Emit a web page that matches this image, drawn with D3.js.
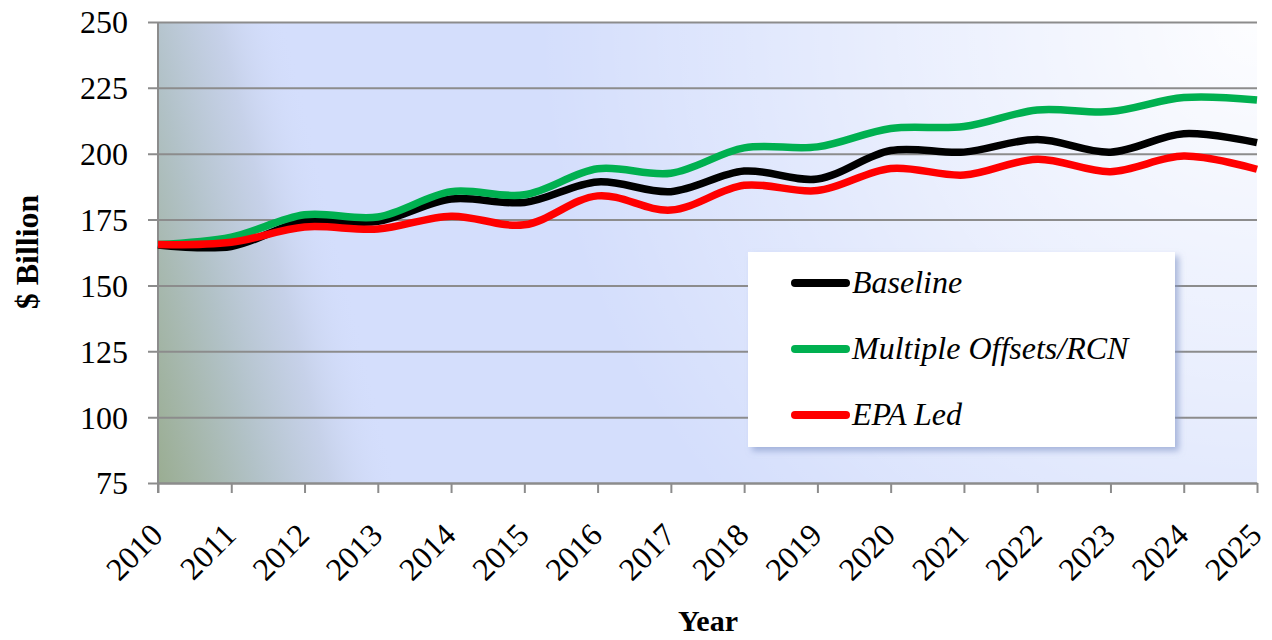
<!DOCTYPE html>
<html>
<head>
<meta charset="utf-8">
<script src="https://cdn.jsdelivr.net/npm/d3@7"></script>
<style>
  html, body { margin: 0; padding: 0; background: #ffffff; }
  svg { display: block; }
</style>
</head>
<body>
<svg id="chart" width="1272" height="640"></svg>
<script>
// Projected spending by scenario, $ billion
const years = [2010, 2011, 2012, 2013, 2014, 2015, 2016, 2017, 2018, 2019, 2020, 2021, 2022, 2023, 2024, 2025];
const baseline = [165.3, 164.8, 174.4, 174.3, 182.8, 181.5, 189.3, 185.6, 193.4, 190.4, 201.2, 200.6, 205.4, 200.6, 207.6, 204.2];
const multipleOffsets = [165.5, 168.3, 176.8, 176.0, 185.6, 184.4, 194.3, 192.6, 202.2, 202.6, 209.6, 210.3, 216.6, 216.0, 221.3, 220.4];
const epaLed = [165.5, 166.4, 172.2, 171.4, 176.3, 173.0, 184.0, 178.6, 188.0, 186.0, 194.4, 191.9, 197.9, 193.2, 199.1, 194.1];
const yTicks = [75, 100, 125, 150, 175, 200, 225, 250];

const seriesList = [
  { name: "Baseline", values: baseline, color: "#000000" },
  { name: "Multiple Offsets/RCN", values: multipleOffsets, color: "#00b050" },
  { name: "EPA Led", values: epaLed, color: "#ff0000" }
];

const svg = d3.select("#chart");
const plot = { left: 158, right: 1257, top: 22, bottom: 483 };

const x = d3.scaleLinear().domain([2010, 2025]).range([plot.left, plot.right]);
const y = d3.scaleLinear().domain([75, 250]).range([plot.bottom, plot.top]);

const defs = svg.append("defs");

// greenish-grey wash coming in from the lower left
const wash = defs.append("linearGradient")
  .attr("id", "leftWash")
  .attr("gradientUnits", "userSpaceOnUse")
  .attr("x1", 158).attr("y1", 483)
  .attr("x2", 385).attr("y2", 428);
wash.append("stop").attr("offset", 0).attr("stop-color", "#9aad92").attr("stop-opacity", 1);
wash.append("stop").attr("offset", 0.42).attr("stop-color", "#b2c2c8").attr("stop-opacity", 1);
wash.append("stop").attr("offset", 0.72).attr("stop-color", "#c4cfe6").attr("stop-opacity", 0.85);
wash.append("stop").attr("offset", 1).attr("stop-color", "#d4defc").attr("stop-opacity", 0);

// pale glow towards the upper right
const glow = defs.append("radialGradient")
  .attr("id", "rightGlow")
  .attr("gradientUnits", "userSpaceOnUse")
  .attr("cx", 1257).attr("cy", 22).attr("r", 720);
glow.append("stop").attr("offset", 0).attr("stop-color", "#ffffff").attr("stop-opacity", 0.95);
glow.append("stop").attr("offset", 0.45).attr("stop-color", "#ffffff").attr("stop-opacity", 0.55);
glow.append("stop").attr("offset", 1).attr("stop-color", "#ffffff").attr("stop-opacity", 0);

const shadow = defs.append("filter").attr("id", "legendShadow")
  .attr("x", "-10%").attr("y", "-10%").attr("width", "125%").attr("height", "125%");
shadow.append("feDropShadow")
  .attr("dx", 4).attr("dy", 4).attr("stdDeviation", 3)
  .attr("flood-color", "#7f93c4").attr("flood-opacity", 0.6);

// plot background
const bg = svg.append("g");
[["#d4defc", null], [null, "url(#leftWash)"], [null, "url(#rightGlow)"]].forEach(([c, u]) => {
  bg.append("rect")
    .attr("x", plot.left).attr("y", plot.top)
    .attr("width", plot.right - plot.left).attr("height", plot.bottom - plot.top)
    .attr("fill", c || u);
});

const gridColor = "#8c8c8c";
const fontSerif = "'Liberation Serif', 'DejaVu Serif', serif";

// horizontal gridlines with left ticks
const yAxis = d3.axisLeft(y).tickValues(yTicks)
  .tickSize(-(plot.right - plot.left)).tickSizeOuter(0).tickPadding(20);
const gy = svg.append("g").attr("transform", `translate(${plot.left},0)`).call(yAxis);
gy.select(".domain").remove();
gy.selectAll(".tick line")
  .attr("x1", -10)
  .attr("stroke", gridColor).attr("stroke-width", 2);
gy.selectAll(".tick text")
  .attr("x", -30)
  .attr("dy", "0.34em")
  .attr("fill", "#000")
  .style("font-family", fontSerif).style("font-size", "32px");

// left axis line
svg.append("line")
  .attr("x1", plot.left).attr("x2", plot.left)
  .attr("y1", plot.top).attr("y2", plot.bottom + 10)
  .attr("stroke", gridColor).attr("stroke-width", 2);

// bottom axis with year ticks
const xAxis = d3.axisBottom(x).tickValues(years).tickFormat(d3.format("d"))
  .tickSize(10).tickSizeOuter(0);
const gx = svg.append("g").attr("transform", `translate(0,${plot.bottom})`).call(xAxis);
gx.select(".domain").attr("stroke", gridColor).attr("stroke-width", 2);
gx.selectAll(".tick line").attr("stroke", gridColor).attr("stroke-width", 2);
gx.selectAll(".tick text")
  .attr("y", 0).attr("dy", 0)
  .attr("text-anchor", "end")
  .attr("transform", "translate(6,54) rotate(-45)")
  .attr("fill", "#000")
  .style("font-family", fontSerif).style("font-size", "32px");

// scenario lines
const line = d3.line()
  .x((d, i) => x(years[i]))
  .y(d => y(d))
  .curve(d3.curveCatmullRom.alpha(0.5));

svg.append("g").selectAll("path")
  .data(seriesList)
  .join("path")
  .attr("d", s => line(s.values))
  .attr("fill", "none")
  .attr("stroke", s => s.color)
  .attr("stroke-width", 7.5)
  .attr("stroke-linejoin", "round");

// legend
const legend = svg.append("g");
legend.append("rect")
  .attr("x", 748).attr("y", 252).attr("width", 427).attr("height", 195)
  .attr("fill", "#ffffff")
  .attr("filter", "url(#legendShadow)");
const rows = legend.selectAll("g.row")
  .data(seriesList)
  .join("g")
  .attr("class", "row")
  .attr("transform", (d, i) => `translate(0,${283 + i * 66})`);
rows.append("line")
  .attr("x1", 795).attr("x2", 846)
  .attr("stroke", d => d.color)
  .attr("stroke-width", 8)
  .attr("stroke-linecap", "round");
rows.append("text")
  .attr("x", 852).attr("y", 10)
  .text(d => d.name)
  .attr("fill", "#000")
  .style("font-family", fontSerif).style("font-style", "italic").style("font-size", "32px");

// axis titles
svg.append("text")
  .attr("transform", "translate(38,252) rotate(-90)")
  .attr("text-anchor", "middle")
  .text("$ Billion")
  .style("font-family", fontSerif).style("font-weight", "bold").style("font-size", "32px");

svg.append("text")
  .attr("x", 708).attr("y", 631)
  .attr("text-anchor", "middle")
  .text("Year")
  .style("font-family", fontSerif).style("font-weight", "bold").style("font-size", "30px");
</script>
</body>
</html>
